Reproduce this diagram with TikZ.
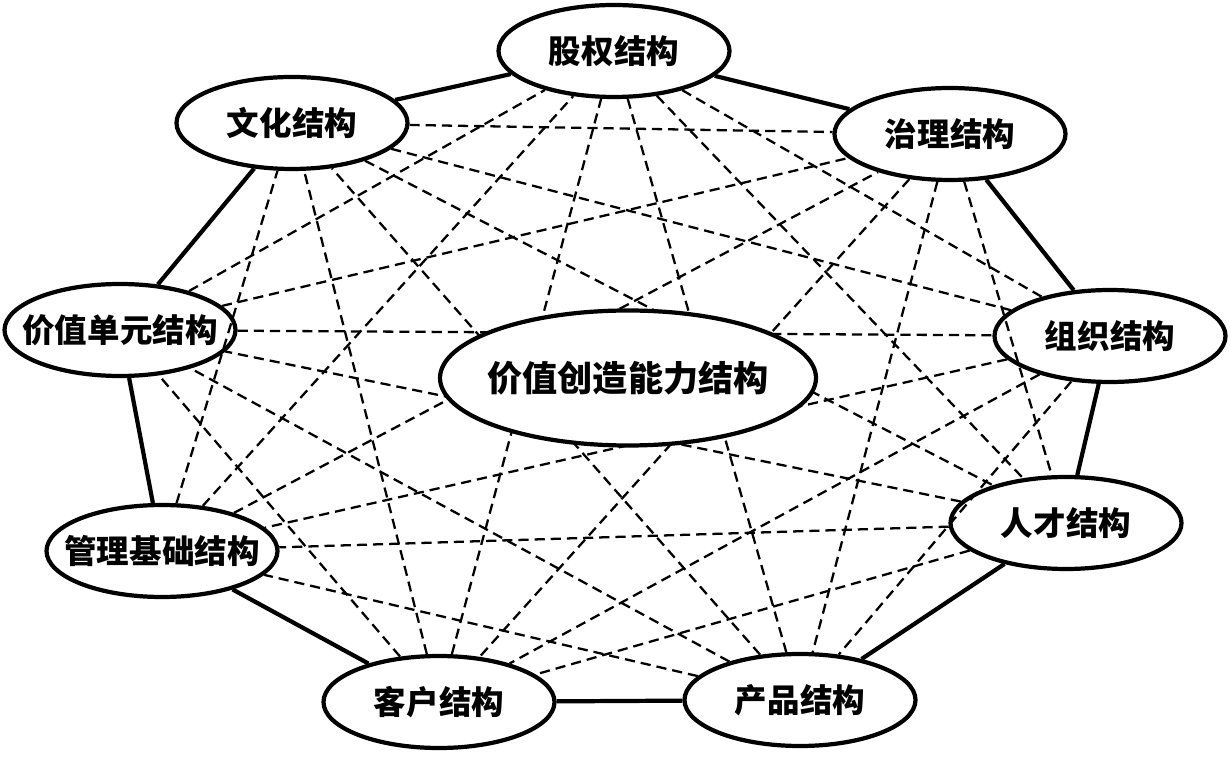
\documentclass[tikz,border=0pt]{standalone}
\usepackage{fontspec}
\newfontfamily\cjk{Noto Sans CJK SC}
\usetikzlibrary{shapes.geometric}
\usetikzlibrary{calc}
\newcommand{\lbl}[1]{\makebox[0pt]{#1}}

\begin{document}
\begin{tikzpicture}[
	part/.style={ellipse, draw, line width=2.4pt, fill=white, inner sep=0pt,
		minimum width=4.62cm, minimum height=1.84cm,
		font=\cjk\bfseries\fontsize{18.5}{22}\selectfont},
	core/.style={part, minimum width=7.52cm, minimum height=2.7cm,
		font=\cjk\bfseries\fontsize{20}{24}\selectfont},
	ring/.style={line width=2.4pt},
	link/.style={line width=1.3pt, dash pattern=on 5.8pt off 3.4pt}
	]
					% canvas
					\useasboundingbox (0,0) rectangle (24.62,15.12);
					% outer ring of structures
					\node[part] (n1) at (12.28,14.10) {\lbl{股权结构}};
					\node[part] (n2) at (19.00,12.44) {\lbl{治理结构}};
					\node[part] (n3) at (22.20,8.40) {\lbl{组织结构}};
					\node[part] (n4) at (21.32,4.66) {\lbl{人才结构}};
					\node[part] (n5) at (16.00,1.12) {\lbl{产品结构}};
					\node[part] (n6) at (8.78,1.08) {\lbl{客户结构}};
					\node[part] (n7) at (3.24,4.10) {\lbl{管理基础结构}};
					\node[part] (n8) at (2.40,8.52) {\lbl{价值单元结构}};
					\node[part] (n9) at (5.84,12.66) {\lbl{文化结构}};
					% neighbours
					\foreach \i in {1,...,9} {
						\pgfmathtruncatemacro\j{mod(\i,9)+1}
						\draw[ring] (n\i) -- (n\j);
					}
					% all other pairs
					\foreach \i in {1,...,9}
						\foreach \k in {2,3,4} {
							\pgfmathtruncatemacro\j{mod(\i+\k-1,9)+1}
							\draw[link] (n\i) -- (n\j);
						}
					% centre on top
					\node[core] (core) at (12.56,7.56) {\lbl{价值创造能力结构}};
				\end{tikzpicture}
\end{document}
